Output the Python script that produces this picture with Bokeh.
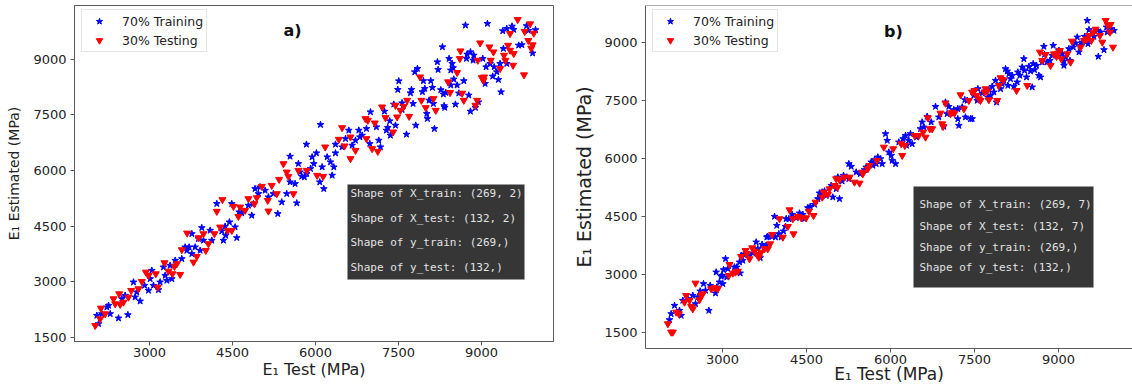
from bokeh.plotting import figure
from bokeh.layouts import row, column
from bokeh.models import FixedTicker, Label, BoxAnnotation, Span
from bokeh.embed import file_html
from bokeh.resources import INLINE

# ---------------- data ----------------
x_ticks = [3000, 4500, 6000, 7500, 9000]
y_ticks = [1500, 3000, 4500, 6000, 7500, 9000]

a_train_x = [2079, 2049, 2139, 2229, 2260, 2290, 2440, 2500, 2609, 2560, 2711, 2741, 2831, 2770, 2910, 2982, 3012, 3042, 3072, 3162,
             3192, 3253, 3283, 3313, 3373, 3464, 3403, 3584, 3644, 3674, 3716, 3765, 3765, 3825, 3885, 3945, 3975, 3915, 4096, 4126,
             4216, 4306, 4336, 4366, 4378, 4445, 4487, 4547, 4577, 4619, 4667, 4788, 4848, 4878, 4908, 4968, 4998, 5089, 5149, 5239,
             5318, 5390, 5480, 5540, 5540, 5631, 5661, 5691, 5721, 5751, 5799, 5841,
             5939, 5969, 5909, 6017, 6120, 6077, 6150, 6271, 6331, 6301, 6211, 6361,
             6090, 5836, 6361, 6542, 6481, 6602, 6662, 6722, 6783, 6801, 6843, 6921, 6993, 6981, 7101, 7144, 7174, 7246, 7282, 7306,
             7342, 7354, 7445, 7415, 7505, 7487, 7565, 7565, 7644, 7734, 7716, 7764, 7812, 7794, 7842, 7950, 7932, 7975, 8011, 8053,
             8083, 8095, 8149, 8131, 8113, 8023, 8203, 8216, 8294, 8264, 8312, 8324, 8336, 8354, 8414, 8444, 8445, 8469, 8487, 8499,
             8529, 8559, 8590, 8680, 8710, 8728, 8740, 8770, 8800, 8800, 8848, 8860, 8890, 8945, 9023, 9065, 9083, 9107, 9155, 9203,
             9228, 9276, 9306, 9336, 9354, 9396, 9456, 9384, 9456, 9552, 9582, 9672,
             9814, 9846, 9976, 9729, 9924]
a_train_y = [1860, 2085, 2130, 2310, 2355, 2130, 2013, 2535, 2103, 2625, 2985, 2580, 2472, 2715, 2895, 2760, 3075, 3300, 2895, 2778,
             2985, 3390, 3165, 3030, 3435, 3570, 3075, 3615, 3930, 3840, 3930, 3750, 4290, 3930, 4155, 4452, 4110, 3840, 4380, 4110,
             5102, 4362, 4110, 4488, 4245, 4605, 5100, 4470, 4182, 4875, 4848, 5055, 4785, 5100, 5505, 5370, 5550, 5460, 5280, 5370,
             4830, 5145, 5370, 6378, 5685, 5640, 5118, 6180, 5955, 5838, 5820, 5910,
             6360, 6180, 6045, 6468, 6090, 5685, 5505, 6225, 6090, 5865, 6360, 6468,
             7233, 6702, 6702, 6855, 6630, 7080, 6675, 6810, 7080, 6900, 6945, 7125, 7575, 6720, 7170, 6810, 6630, 7593, 7080, 7152,
             7332, 6945, 7215, 7782, 8412, 8178, 7818, 7638, 6972, 8178, 8088, 7800, 7215, 8655, 8745, 8415, 8118, 8208, 7530, 7890,
             8415, 7908, 7125, 7800, 8235, 7395, 8925, 8718, 9330, 8172, 8055, 7740, 7695, 8100, 9015, 8298, 8703, 8883, 8766, 8460,
             7782, 8298, 8082, 8415, 9915, 9015, 9132, 8028, 7593, 9195, 8970, 9105, 7692, 7845, 9015, 8340, 8790, 9960, 8880, 8538,
             8790, 8655, 8448, 8880, 8115, 9285, 8880, 9762, 9825, 9888, 9798, 9375,
             9900, 9774, 9792, 9387, 9162]

a_test_x = [2019, 2109, 2121, 2199, 2350, 2380, 2470, 2452, 2530, 2620, 2669, 2801, 2861, 2934, 2982, 3114, 3150, 3271, 3343, 3415,
            3451, 3494, 3554, 3584, 3680, 3795, 3855, 3885, 3975, 4017, 4065, 4174, 4216, 4318, 4276, 4414, 4487, 4517, 4607, 4637,
            4728, 4788, 4896, 4938, 5029, 5137, 5149, 5209, 5300, 5342, 5420, 5480, 5510, 5600, 5691, 5841,
            6029, 6138, 6174, 6421, 6481, 6524, 6632, 6632, 6722, 6903, 6945, 6921, 7023, 7071, 7126, 7204, 7264, 7403, 7445, 7475,
            7535, 7596, 7656, 7692, 7890, 7914, 7992, 8131, 8173, 8396, 8432, 8559, 8620, 8608, 8650, 8680, 8890, 8933, 8975, 8920,
            9005, 9047, 9035, 9143, 9167, 9216, 9336, 9408, 9432, 9480, 9516, 9516, 9654, 9582, 9570,
            9879, 9781, 9944, 9846, 9924, 9898, 9768]
a_test_y = [1815, 1995, 2283, 2130, 2535, 2400, 2382, 2670, 2445, 2580, 2760, 2805, 3003, 3255, 3165, 3210, 2850, 3507, 3282, 3210,
            3408, 3480, 3192, 3858, 4308, 3525, 3678, 4182, 4290, 3840, 4020, 4290, 4895, 5210, 4470, 4380, 4380, 5028, 4758, 5010,
            4920, 5235, 5100, 5262, 5568, 5190, 4902, 5595, 5370, 5757, 6180, 5955, 5838, 5370, 6000, 6000,
            5865, 5838, 6630, 6837, 7152, 6657, 6900, 6315, 6540, 7395, 7350, 6855, 6585, 7278, 6513, 7710, 7422, 7035, 7755, 7440,
            7620, 7728, 7890, 7458, 8520, 7890, 7692, 7935, 7620, 8388, 8100, 8640, 9222, 9015, 8082, 7890, 7755, 8970, 9438, 7890,
            8502, 8520, 8430, 9330, 8970, 9195, 8745, 9105, 8970, 9375, 9240, 9690, 10068, 9150, 8835,
            9953, 9746, 9702, 9504, 9387, 9297, 8577]

b_train_x = [2053, 2083, 2143, 2232, 2262, 2292, 2381, 2470, 2518, 2559, 2601, 2661, 2696, 2756, 2780, 2875, 2899, 2887, 2946, 2976,
             3006, 2994, 3018, 3054, 3077, 3095, 3214, 3256, 3304, 3333, 3316, 3363, 3375, 3470, 3542, 3601, 3631, 3673, 3708, 3780,
             3792, 3809, 3887, 3929, 3970, 3946, 4006, 4048, 4089, 4125, 4137, 4185, 4244, 4316, 4375, 4435, 4464, 4524, 4566, 4643,
             4703, 4732, 4780, 4762, 4822, 4851, 4941, 4970, 5030, 5089, 5060, 5137, 5161, 5220, 5256, 5298, 5256, 5387, 5459, 5536,
             5566, 5655, 5685, 5714, 5744, 5774,
             5822, 5851, 5911, 5941, 5970, 6012, 6030, 6090, 6149, 6226, 6268, 6286, 6327, 6357, 6387, 6464, 6536, 6565, 6595, 6655,
             6726, 6804, 6863, 6952, 6982, 7012, 7041, 7131, 7202, 7202, 7220, 7280, 7327, 7369, 7429, 7339, 7458, 7488, 7548, 7560,
             7637, 7756, 7739, 7786, 7816, 7846, 7875, 7893, 7965, 7994, 8024, 8054, 8084, 8114, 8143, 8173, 8096, 8203, 8262, 8274,
             8310, 8352, 8381, 8393, 8429, 8471, 8500, 8530, 8548, 8572, 8608, 8649, 8679, 8709, 8739, 8751, 8798, 8846, 8888, 8906,
             9007, 9067, 9097, 9126, 9097, 9204, 9186, 9264, 9306, 9335, 9365, 9383, 9425, 9467, 9526, 9514, 9544, 9633, 9693, 9711,
             9752, 9812, 9943, 9991, 9871, 9859]
b_train_y = [1828, 1983, 2198, 2069, 1940, 2328, 2371, 2457, 2241, 2414, 2569, 2759, 2586, 2069, 2715, 2517, 2672, 3060, 2802, 2948,
             2759, 2974, 3121, 3405, 2931, 3146, 3190, 3190, 3319, 3491, 3034, 3362, 3517, 3517, 3552, 3836, 3664, 3431, 3776, 3750,
             3965, 3982, 3982, 4500, 4267, 3965, 4051, 3965, 4120, 4241, 4440, 4440, 4551, 4465, 4586, 4551, 4440, 4724, 4758, 4810,
             4957, 5103, 5129, 5000, 5155, 5043, 5301, 5000, 5215, 4957, 5517, 5414, 5560, 5517, 5474, 5793, 5862, 5646, 5603, 5707,
             5776, 5905, 5819, 5965, 5862, 6034,
             5991, 5862, 6638, 6465, 6163, 6077, 5948, 5862, 6422, 6508, 6594, 6336, 6465, 6638, 6379, 6551, 6767, 6939, 6810, 7086,
             6939, 7343, 7069, 6827, 7455, 7155, 7343, 7258, 7025, 7284, 6853, 7327, 7517, 7500, 7025, 7069, 7025, 7629, 7500, 7801,
             7689, 7776, 7586, 7629, 7862, 7715, 8017, 7455, 7801, 7931, 8017, 8318, 8258, 8189, 8060, 8146, 7888, 7862, 7974, 8232,
             8146, 8362, 8577, 8275, 8103, 8379, 8258, 7844, 8448, 8293, 8405, 8146, 8103, 8491, 8896, 8689, 8491, 8534, 8663, 8922,
             8793, 8706, 8517, 8620, 8405, 8534, 8836, 8879, 8982, 9137, 8750, 8922, 9008, 9154, 8965, 9568, 9327, 9154, 9310, 8637,
             9267, 8810, 9353, 9310, 9267, 9396]

b_test_x = [2024, 2083, 2113, 2173, 2220, 2321, 2351, 2411, 2440, 2470, 2518, 2589, 2619, 2649, 2798, 2857, 2917, 3125, 3113, 3185,
            3232, 3274, 3333, 3411, 3435, 3482, 3530, 3571, 3613, 3649, 3690, 3750, 3809, 3851, 3887, 4018, 4078, 4167, 4197, 4268,
            4256, 4345, 4405, 4494, 4542, 4625, 4661, 4804, 4780, 4881, 4911, 5000, 5054, 5030, 5089, 5179, 5268, 5357, 5447, 5494,
            5506, 5596, 5625, 5756,
            5881, 6048, 6191, 6209, 6256, 6429, 6506, 6583, 6625, 6667, 6702, 6744, 6893, 6923, 6940, 6982, 7071, 7101, 7143, 7250,
            7310, 7399, 7458, 7500, 7536, 7578, 7607, 7697, 7679, 7727, 7756, 7905, 7935, 7965, 8012, 8250, 8441, 8668, 8709, 8768,
            8858, 8918, 8965, 8989, 9025, 9049, 9156, 9216, 9240, 9395, 9455, 9502, 9544, 9586, 9621, 9663, 9740, 9782, 9842, 9884,
            9931, 9919, 9973]
b_test_y = [1724, 1509, 1509, 2026, 1983, 2284, 2457, 2328, 2172, 2112, 2776, 2345, 2457, 2500, 2629, 2655, 2629, 3258, 2974, 3034,
            3060, 3086, 3465, 3621, 3534, 3405, 3689, 3603, 3517, 3448, 3578, 3664, 3664, 3793, 4034, 4440, 3965, 4241, 4672, 4051,
            4440, 4500, 4465, 4465, 4638, 4526, 4870, 5129, 5000, 5069, 5215, 5301, 5258, 5474, 5448, 5517, 5517, 5388, 5362, 5646,
            5603, 5733, 5819, 5948,
            6293, 6250, 6379, 6077, 6336, 6594, 6594, 6681, 6551, 7051, 6767, 6767, 7172, 6896, 6827, 7431, 7155, 7198, 7172, 7646,
            7284, 7500, 7715, 7758, 7629, 7543, 7500, 7801, 7715, 7741, 7517, 7500, 7888, 8086, 8034, 7758, 7888, 8750, 8534, 8689,
            8405, 8706, 8637, 8724, 8793, 8577, 8706, 8491, 9034, 8879, 9051, 9094, 9180, 9051, 9267, 9344, 9180, 9008, 9568, 9439,
            9465, 9267, 8879]

train_label = "70% Training"
test_label = "30% Testing"
x_title = "E\u2081 Test (MPa)"
y_title = "E\u2081 Estimated (MPa)"
info_a = ["Shape of X_train: (269, 2)", "Shape of X_test: (132, 2)",
          "Shape of y_train: (269,)", "Shape of y_test: (132,)"]
info_b = ["Shape of X_train: (269, 7)", "Shape of X_test: (132, 7)",
          "Shape of y_train: (269,)", "Shape of y_test: (132,)"]

FIG_H = 389
AX_COL = "#5a5a5a"
TXT_COL = "#222222"


def make_panel(tx, ty, sx, sy, tag, info, geo):
    # geo: page-pixel geometry used only for layout / annotation placement
    (fx0, fw, L, R, T, B, x3000, px_per_1500x, y1500, px_per_1500y,
     ylab_size, xlab_size, ylab_standoff, xlab_standoff,
     tag_px, tag_py, box, line_pys, text_px, outline) = geo

    def px2x(px):
        return 3000 + (px - x3000) * 1500.0 / px_per_1500x

    def py2y(py):
        return 1500 + (y1500 - py) * 1500.0 / px_per_1500y

    p = figure(width=fw, height=FIG_H, output_backend="svg", toolbar_location=None,
               x_range=(px2x(L), px2x(R)), y_range=(py2y(B), py2y(T)),
               min_border_left=L - fx0, min_border_right=fx0 + fw - R,
               min_border_top=T, min_border_bottom=FIG_H - B,
               background_fill_color="white", border_fill_color="white")
    p.grid.visible = False
    p.outline_line_color = AX_COL if outline else None
    if not outline:
        p.add_layout(Span(location=py2y(T), dimension="width", line_color=AX_COL, line_width=1))

    p.scatter(tx, ty, marker="star", size=7, color="#0000ff", legend_label=train_label)
    p.scatter(sx, sy, marker="inverted_triangle", size=7, color="#ff0000", legend_label=test_label)

    for ax, ticks in ((p.xaxis[0], x_ticks), (p.yaxis[0], y_ticks)):
        ax.ticker = FixedTicker(ticks=ticks)
        ax.major_tick_out = 4
        ax.major_tick_in = 0
        ax.minor_tick_line_color = None
        ax.axis_line_color = AX_COL
        ax.major_tick_line_color = AX_COL
        ax.major_label_text_font = "DejaVu Sans"
        ax.major_label_text_font_size = "13px"
        ax.major_label_text_color = TXT_COL
        ax.axis_label_text_font = "DejaVu Sans"
        ax.axis_label_text_font_style = "normal"
        ax.axis_label_text_color = TXT_COL
    p.xaxis[0].axis_label = x_title
    p.xaxis[0].axis_label_text_font_size = xlab_size
    p.xaxis[0].major_label_standoff = 2
    p.xaxis[0].axis_label_standoff = xlab_standoff
    p.yaxis[0].axis_label = y_title
    p.yaxis[0].axis_label_text_font_size = ylab_size
    p.yaxis[0].major_label_standoff = 4
    p.yaxis[0].axis_label_standoff = ylab_standoff

    lg = p.legend[0]
    lg.label_text_font = "DejaVu Sans"
    lg.label_text_font_size = "12.5px"
    lg.label_text_color = TXT_COL
    lg.padding = 3
    lg.spacing = 3
    lg.label_height = 16
    lg.glyph_height = 16
    lg.glyph_width = 28
    lg.label_standoff = 9
    lg.margin = 0
    lg.border_line_color = "#cccccc"
    lg.background_fill_alpha = 0.85
    frame_h = B - T
    lg.location = (7, frame_h - 6 - 41)

    p.add_layout(Label(x=px2x(tag_px), y=py2y(tag_py), text=tag, text_font="DejaVu Sans",
                       text_font_style="bold", text_font_size="16px", text_color="#111111",
                       text_align="center", text_baseline="middle"))

    bl, br, bt, bb = box
    p.add_layout(BoxAnnotation(left=px2x(bl), right=px2x(br), top=py2y(bt), bottom=py2y(bb),
                               fill_color="#363636", fill_alpha=1.0, line_color="#9a9a9a",
                               line_width=1, level="overlay"))
    for txt, py in zip(info, line_pys):
        p.add_layout(Label(x=px2x(text_px), y=py2y(py), text=txt, text_font="DejaVu Sans Mono",
                           text_font_size="11px", text_color="#e2e2e2", text_align="left",
                           text_baseline="middle", level="overlay"))
    return p


geo_a = (0, 570, 74, 553, 5, 341, 149, 83.0, 336.7, 55.6,
         "14px", "16px", 8, 0, 292, 30, (347, 524, 184, 279), (193, 217.5, 242, 266.5), 350, True)
geo_b = (570, 562, 645, 1132, 5, 348, 722, 84.0, 332.0, 58.0,
         "19px", "17px", 6, -3, 893, 31, (913, 1093, 186, 287), (204, 226, 247, 267), 919, False)

pa = make_panel(a_train_x, a_train_y, a_test_x, a_test_y, "a)", info_a, geo_a)
pb = make_panel(b_train_x, b_train_y, b_test_x, b_test_y, "b)", info_b, geo_b)

layout = row(column(pa), column(pb))
open("out.html", "w").write(file_html(layout, INLINE))
